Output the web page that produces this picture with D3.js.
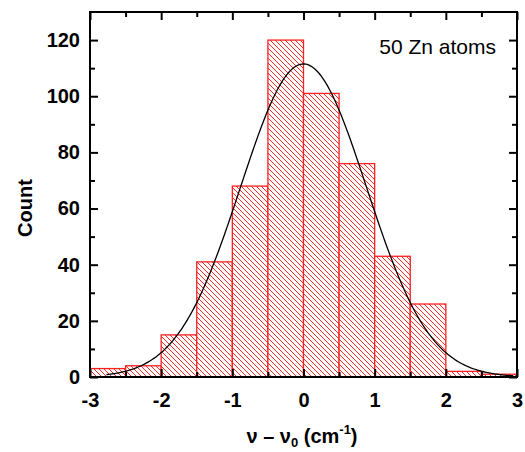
<!DOCTYPE html>
<html><head><meta charset="utf-8">
<script src="https://cdn.jsdelivr.net/npm/d3@7"></script>
<style>body{margin:0;background:#fff}svg{display:block}</style>
</head><body>
<svg id="c" width="525" height="452"></svg>
<script>
// Histogram bins (left edges, width 0.5) and counts
const binStarts = [-3, -2.5, -2, -1.5, -1, -0.5, 0, 0.5, 1, 1.5, 2, 2.5];
const binWidth = 0.5;
const counts = [3, 4, 15, 41, 68, 120, 101, 76, 43, 26, 2, 1];
// Gaussian fit parameters
const fitAmplitude = 111.5;
const fitCenter = 0.0;
const fitSigma = 0.885;
const fitRange = [-2.77, 2.95];
const xTicks = [-3, -2, -1, 0, 1, 2, 3];
const yTicks = [0, 20, 40, 60, 80, 100, 120];

const svg = d3.select("#c");
const L = 90, R = 517, T = 12, B = 377;
const x = d3.scaleLinear().domain([-3, 3]).range([L, R]);
const y = d3.scaleLinear().domain([0, 130]).range([B, T]);

const defs = svg.append("defs");
const pat = defs.append("pattern").attr("id", "hatch").attr("patternUnits", "userSpaceOnUse")
  .attr("width", 5).attr("height", 5);
pat.append("rect").attr("width", 5).attr("height", 5).attr("fill", "#fff");
pat.append("path").attr("d", "M-1,-1L6,6M-1,4L1,6M4,-1L6,1")
  .attr("stroke", "#ff2a2a").attr("stroke-width", 1);

// bars
svg.append("g").selectAll("rect").data(counts).join("rect")
  .attr("x", (d, i) => x(binStarts[i]))
  .attr("y", d => y(d))
  .attr("width", (d, i) => x(binStarts[i] + binWidth) - x(binStarts[i]))
  .attr("height", d => y(0) - y(d))
  .attr("fill", "url(#hatch)")
  .attr("stroke", "#ff2020").attr("stroke-width", 1.3);

// fit curve
const pts = d3.range(0, 301).map(i => {
  const xv = fitRange[0] + (fitRange[1] - fitRange[0]) * i / 300;
  return [xv, fitAmplitude * Math.exp(-Math.pow(xv - fitCenter, 2) / (2 * fitSigma * fitSigma))];
});
svg.append("path").datum(pts)
  .attr("d", d3.line().x(d => x(d[0])).y(d => y(d[1])))
  .attr("fill", "none").attr("stroke", "#000").attr("stroke-width", 1.3);

// axes
const font = "'Liberation Sans', Arial, Helvetica, sans-serif";
const xMinor = d3.range(-2.5, 3, 1);
const yMinor = d3.range(10, 130, 20);
function styleAxis(g) {
  g.select(".domain").remove();
  g.selectAll("line").attr("stroke", "#000").attr("stroke-width", 2);
  g.selectAll("text").attr("font-family", font).attr("font-weight", "bold").attr("font-size", 20).attr("fill", "#000");
}
svg.append("g").attr("transform", `translate(0,${B})`)
  .call(d3.axisBottom(x).tickValues(xTicks).tickSize(-8).tickPadding(16).tickFormat(d => String(d)))
  .call(styleAxis);
svg.append("g").attr("transform", `translate(0,${B})`)
  .call(d3.axisBottom(x).tickValues(xMinor).tickSize(-5).tickFormat(""))
  .call(styleAxis);
svg.append("g").attr("transform", `translate(0,${T})`)
  .call(d3.axisTop(x).tickValues(xTicks).tickSize(-8).tickFormat(""))
  .call(styleAxis);
svg.append("g").attr("transform", `translate(0,${T})`)
  .call(d3.axisTop(x).tickValues(xMinor).tickSize(-5).tickFormat(""))
  .call(styleAxis);
svg.append("g").attr("transform", `translate(${L},0)`)
  .call(d3.axisLeft(y).tickValues(yTicks).tickSize(-8).tickPadding(10).tickFormat(d => String(d)))
  .call(styleAxis);
svg.append("g").attr("transform", `translate(${L},0)`)
  .call(d3.axisLeft(y).tickValues(yMinor).tickSize(-5).tickFormat(""))
  .call(styleAxis);
svg.append("g").attr("transform", `translate(${R},0)`)
  .call(d3.axisRight(y).tickValues(yTicks).tickSize(-8).tickFormat(""))
  .call(styleAxis);
svg.append("g").attr("transform", `translate(${R},0)`)
  .call(d3.axisRight(y).tickValues(yMinor).tickSize(-5).tickFormat(""))
  .call(styleAxis);

// frame
svg.append("rect").attr("x", L).attr("y", T).attr("width", R - L).attr("height", B - T)
  .attr("fill", "none").attr("stroke", "#000").attr("stroke-width", 2);

// labels
svg.append("text").attr("transform", `translate(32,208) rotate(-90)`)
  .attr("text-anchor", "middle").attr("font-family", font).attr("font-weight", "bold")
  .attr("font-size", 20).text("Count");

const xl = svg.append("text").attr("x", 302).attr("y", 443).attr("text-anchor", "middle")
  .attr("font-family", font).attr("font-weight", "bold").attr("font-size", 20);
xl.append("tspan").text("ν – ν");
xl.append("tspan").attr("font-size", 13).attr("dy", 4).text("0");
xl.append("tspan").attr("dy", -4).text(" (cm");
xl.append("tspan").attr("font-size", 13).attr("dy", -9).text("-1");
xl.append("tspan").attr("dy", 9).text(")");

svg.append("text").attr("x", 496).attr("y", 54).attr("text-anchor", "end")
  .attr("font-family", font).attr("font-size", 21).text("50 Zn atoms");
</script>
</body></html>
